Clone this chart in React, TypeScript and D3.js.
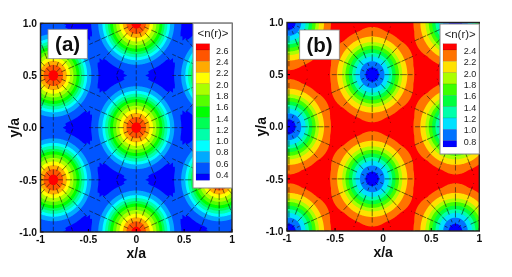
import React, { useMemo } from "react";
import * as d3 from "d3";

// ---- values ----
const centersAX = [0, 0, 0, -0.866, -0.866, 0.866, 0.866, -0.866, -0.866, 0.866, 0.866, -1.732, 1.732, -1.732, -1.732, 1.732, 1.732];
const centersAY = [-1, 0, 1, -0.5, 0.5, -0.5, 0.5, -1.5, 1.5, -1.5, 1.5, 0, 0, 1, -1, 1, -1];
const profileADist = [0, 0.05, 0.102, 0.14, 0.175, 0.21, 0.243, 0.272, 0.296, 0.325, 0.352, 0.395, 0.456, 0.5, 0.51, 0.55, 0.577, 1, 9];
const profileAVal = [2.85, 2.6, 2.4, 2.2, 2.0, 1.8, 1.6, 1.4, 1.2, 1.0, 0.8, 0.6, 0.4, 0.375, 0.345, 0.31, 0.305, 0.3, 0.3];
const baseA = 0.3;
const levelsA = [0.4, 0.6, 0.8, 1.0, 1.2, 1.4, 1.6, 1.8, 2.0, 2.2, 2.4, 2.6];
const colorsA = ["#0000ff", "#0055ff", "#00aaff", "#00ffff", "#00ffaa", "#00ff55", "#00ff00", "#55ff00", "#aaff00", "#ffff00", "#ffaa00", "#ff5500", "#ff0000"];

const centersBX = [-0.98, -0.98, -0.98, -0.114, -0.114, -0.114, -0.114, 0.752, 0.752, 0.752, 1.618, 1.618, -1.846, -1.846];
const centersBY = [-1, 0, 1, -0.5, 0.5, -1.5, 1.5, -1, 0, 1, -0.5, 0.5, -0.5, 0.5];
const profileBDist = [0, 0.07, 0.128, 0.174, 0.208, 0.243, 0.278, 0.312, 0.365, 0.437, 0.455, 0.5, 0.55, 0.6, 9];
const profileBVal = [0.65, 0.8, 1.0, 1.2, 1.4, 1.6, 1.8, 2.0, 2.2, 2.4, 2.43, 2.53, 2.57, 2.6, 2.6];
const baseB = 2.6;
const levelsB = [0.8, 1.0, 1.2, 1.4, 1.6, 1.8, 2.0, 2.2, 2.4];
const colorsB = ["#0000ff", "#0073ff", "#00e1ff", "#00ffaa", "#00ff3c", "#3cff00", "#aaff00", "#ffe100", "#ff7300", "#ff0000"];

const xTicks = [-1, -0.5, 0, 0.5, 1];
const yTicks = [-1, -0.5, 0, 0.5, 1];
const xTickLabels = ["-1", "-0.5", "0", "0.5", "1"];
const yTickLabels = ["-1.0", "-0.5", "0.0", "0.5", "1.0"];
const spokeAngles = d3.range(0, 360, 22.5);
const spokeRadii = [0.05, 0.13, 0.21, 0.29, 0.37, 0.45];
const spokeLengthsA = [0.05, 0.065, 0.065, 0.065, 0.06, 0.04];
const spokeLengthsB = [0.03, 0.065, 0.07, 0.07, 0.05, 0.008];
const spokeStagger = [0, 0.04];

const FONT = "'Liberation Sans', Arial, sans-serif";

function Panel(p: any) {
  const { x0, x1, y0, y1 } = p;
  const sx = d3.scaleLinear().domain([-1, 1]).range([x0, x1]);
  const sy = d3.scaleLinear().domain([-1, 1]).range([y1, y0]);

  const { bands, spokes } = useMemo(() => {
    const interp = d3.scaleLinear().domain(p.dist).range(p.vals).clamp(true);
    const n = 300;
    const lo = -1.06;
    const hi = 1.06;
    const g = (i: number) => lo + (i * (hi - lo)) / (n - 1);
    const values = new Float64Array(n * n);
    for (let j = 0; j < n; j++) {
      for (let i = 0; i < n; i++) {
        let v = p.base;
        for (let k = 0; k < p.cx.length; k++) {
          v += interp(Math.hypot(g(i) - p.cx[k], g(j) - p.cy[k])) - p.base;
        }
        values[j * n + i] = v;
      }
    }
    const contours = d3.contours().size([n, n]).thresholds(p.levels)(values as any);
    const path = d3.geoPath(
      d3.geoTransform({
        point(this: any, px: number, py: number) {
          this.stream.point(sx(g(px - 0.5)), sy(g(py - 0.5)));
        },
      })
    );
    const bands = contours.map((c: any) => path(c) || "");
    const spokes: [number, number, number, number][] = [];
    p.cx.forEach((cx: number, k: number) => {
      spokeAngles.forEach((deg, ai) => {
        const a = (deg * Math.PI) / 180;
        const off = spokeStagger[ai % 2];
        spokeRadii.forEach((r0, ri) => {
          const r = r0 + off;
          const ox = cx + r * Math.cos(a);
          const oy = p.cy[k] + r * Math.sin(a);
          let best = Infinity;
          p.cx.forEach((qx: number, q: number) => {
            if (q !== k) best = Math.min(best, Math.hypot(ox - qx, oy - p.cy[q]));
          });
          if (r < best) {
            const len = p.lengths[ri];
            spokes.push([ox, oy, cx + (r + len) * Math.cos(a), p.cy[k] + (r + len) * Math.sin(a)]);
          }
        });
      });
    });
    return { bands, spokes };
  }, []);

  const lg = p.legend;
  const steps = p.levels.length - 1;
  const endH = 6.3;
  const step = (lg.by1 - lg.by0 - 2 * endH) / steps;
  const revColors = [...p.colors].reverse();
  const revLevels = [...p.levels].reverse();
  const boxY = (i: number) => (i === 0 ? lg.by0 : lg.by0 + endH + (i - 1) * step);
  const boxH = (i: number) => (i === 0 || i === revColors.length - 1 ? endH : step);

  return (
    <g fontFamily={FONT}>
      <defs>
        <clipPath id={p.id}>
          <rect x={x0} y={y0} width={x1 - x0} height={y1 - y0} />
        </clipPath>
      </defs>
      <g clipPath={`url(#${p.id})`}>
        <rect x={x0} y={y0} width={x1 - x0} height={y1 - y0} fill={p.colors[0]} />
        {bands.map((d: string, i: number) => (
          <path key={i} d={d} fill={p.colors[i + 1]} />
        ))}
        {spokes.map((s, i) => (
          <line key={i} x1={sx(s[0])} y1={sy(s[1])} x2={sx(s[2])} y2={sy(s[3])} stroke="#111" strokeWidth={0.7} strokeOpacity={0.85} />
        ))}
      </g>
      {xTicks.map((t) => (
        <line key={t} x1={sx(t)} x2={sx(t)} y1={y1} y2={y1 - 3} stroke="#000" strokeWidth={1} />
      ))}
      {yTicks.map((t) => (
        <line key={t} x1={x0} x2={x0 + 3} y1={sy(t)} y2={sy(t)} stroke="#000" strokeWidth={1} />
      ))}
      <rect x={x0} y={y0} width={x1 - x0} height={y1 - y0} fill="none" stroke="#222" strokeWidth={1.4} />
      {xTicks.map((t, i) => (
        <text key={t} x={sx(t)} y={y1 + 10.5} textAnchor="middle" fontSize={10.3} fontWeight="bold" fill="#111">
          {xTickLabels[i]}
        </text>
      ))}
      {yTicks.map((t, i) => (
        <text key={t} x={x0 - 3.5} y={sy(t) + 3.7} textAnchor="end" fontSize={10.3} fontWeight="bold" fill="#111">
          {yTickLabels[i]}
        </text>
      ))}
      <text x={sx(0)} y={y1 + 26} textAnchor="middle" fontSize={14} fontWeight="bold" fill="#111">x/a</text>
      <text transform={`translate(${x0 - 21.5},${sy(0)}) rotate(-90)`} textAnchor="middle" fontSize={14} fontWeight="bold" fill="#111">y/a</text>

      <rect x={lg.x0} y={lg.y0} width={lg.x1 - lg.x0} height={lg.y1 - lg.y0} fill="#fff" stroke="#888" strokeWidth={1} />
      <text x={(lg.x0 + lg.x1) / 2 + 0.5} y={lg.y0 + 14} textAnchor="middle" fontSize={11.4} fill="#222">{"<n(r)>"}</text>
      {revColors.map((c: string, i: number) => (
        <rect key={c} x={lg.bx0} y={boxY(i)} width={lg.bx1 - lg.bx0} height={boxH(i)} fill={c} stroke="#000" strokeOpacity={0.25} strokeWidth={0.4} />
      ))}
      {revLevels.map((l: number, i: number) => (
        <text key={l} x={lg.tx} y={lg.by0 + endH + i * step + 3.9} fontSize={9} fill="#222">{l.toFixed(1)}</text>
      ))}

      <rect x={p.tag.x0} y={p.tag.y0} width={p.tag.x1 - p.tag.x0} height={p.tag.y1 - p.tag.y0} fill="#fff" stroke="#888" strokeWidth={0.8} />
      <text x={(p.tag.x0 + p.tag.x1) / 2} y={(p.tag.y0 + p.tag.y1) / 2 + 7} textAnchor="middle" fontSize={20.5} fontWeight="bold" fill="#111">{p.tag.text}</text>
    </g>
  );
}

export default function App() {
  return (
    <svg width={512} height={277} style={{ position: "absolute", left: 0, top: 0, display: "block", background: "#fff" }}>
      <defs>
        <filter id="soft" x="0" y="0" width="100%" height="100%">
          <feGaussianBlur stdDeviation={0.35} />
        </filter>
      </defs>
      <g filter="url(#soft)">
        <rect x={0} y={0} width={512} height={277} fill="#fff" />
        <Panel id="pa" x0={40.5} x1={232} y0={23.3} y1={232} cx={centersAX} cy={centersAY} dist={profileADist} vals={profileAVal} base={baseA} levels={levelsA} colors={colorsA} lengths={spokeLengthsA}
          legend={{ x0: 193, x1: 232, y0: 23.3, y1: 188, bx0: 196, bx1: 209.7, by0: 43.7, by1: 180.3, tx: 216 }}
          tag={{ x0: 48, x1: 87.3, y0: 29.3, y1: 58.7, text: "(a)" }} />
        <Panel id="pb" x0={287} x1={479.3} y0={22.5} y1={231} cx={centersBX} cy={centersBY} dist={profileBDist} vals={profileBVal} base={baseB} levels={levelsB} colors={colorsB} lengths={spokeLengthsB}
          legend={{ x0: 440, x1: 479.3, y0: 24, y1: 154, bx0: 443, bx1: 456.7, by0: 43.7, by1: 147, tx: 463.7 }}
          tag={{ x0: 299.7, x1: 339.3, y0: 30, y1: 59.3, text: "(b)" }} />
      </g>
    </svg>
  );
}
